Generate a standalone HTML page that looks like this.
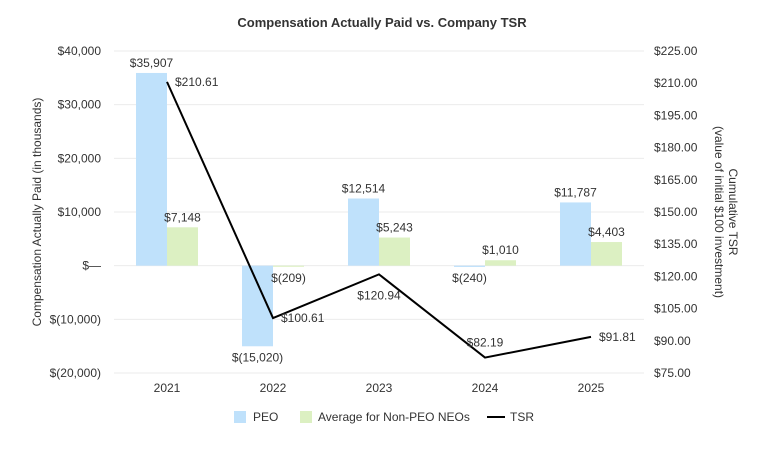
<!DOCTYPE html>
<html><head><meta charset="utf-8"><style>
body{margin:0;background:#fff}
svg text{font-family:"Liberation Sans",Arial,sans-serif}
</style></head><body>
<svg id="c" width="764" height="451" xmlns="http://www.w3.org/2000/svg">
<text x="382" y="27" text-anchor="middle" font-size="13" font-weight="bold" fill="#333">Compensation Actually Paid vs. Company TSR</text>
<text transform="translate(41,212) rotate(-90)" text-anchor="middle" font-size="12" fill="#333">Compensation Actually Paid (in thousands)</text>
<text transform="translate(723,212) rotate(90)" text-anchor="middle" font-size="12" fill="#333"><tspan x="0" dy="-6">Cumulative TSR</tspan><tspan x="0" dy="14">(value of initial $100 investment)</tspan></text>
<g id="grid"></g><g id="bars"></g><g id="line"></g><g id="labels"></g>
<g>
<rect x="234" y="411" width="12" height="12" fill="#bfe1fb"/>
<text x="253" y="421" font-size="12" fill="#333">PEO</text>
<rect x="300" y="411" width="12" height="12" fill="#dcf0c2"/>
<text x="318" y="421" font-size="12" fill="#333">Average for Non-PEO NEOs</text>
<line x1="487" y1="417" x2="505" y2="417" stroke="#000" stroke-width="2"/>
<text x="510" y="421" font-size="12" fill="#333">TSR</text>
</g>
</svg>
<script>
const categories=["2021","2022","2023","2024","2025"];
const peo=[35907,-15020,12514,-240,11787];
const neo=[7148,-209,5243,1010,4403];
const tsr=[210.61,100.61,120.94,82.19,91.81];
const leftTicks=[40000,30000,20000,10000,0,-10000,-20000];
const leftTickLabels=["$40,000","$30,000","$20,000","$10,000","$—","$(10,000)","$(20,000)"];
const rightTicks=[225,210,195,180,165,150,135,120,105,90,75];
const NS="http://www.w3.org/2000/svg";
const L=114,R=644,T=51,B=373;
const yL=v=>T+(40000-v)/60000*(B-T);
const yR=v=>T+(225-v)/150*(B-T);
const xC=i=>L+53+i*106;
// label placement modes for TSR labels: right, below-center, above-center
const tsrPlace=["r","r","b","a","r"];
function mk(g,tag,a,txt){const e=document.createElementNS(NS,tag);for(const k in a)e.setAttribute(k,a[k]);if(txt!==undefined)e.textContent=txt;document.getElementById(g).appendChild(e);return e;}
function fmt(v){return v<0?"$("+Math.abs(v).toLocaleString("en-US")+")":"$"+v.toLocaleString("en-US");}
leftTicks.forEach((t,i)=>{
 const l=mk("grid","line",{x1:L,x2:R,y1:yL(t),y2:yL(t),stroke:"#ebebeb","stroke-width":1});
 
 
 const tx=mk("grid","text",{x:101,y:yL(t)+4,"text-anchor":"end","font-size":12,fill:"#333"},leftTickLabels[i]);
 
 
});
rightTicks.forEach(t=>{
 const tx=mk("grid","text",{x:654,y:yR(t)+4,"font-size":12,fill:"#333"},"$"+t.toFixed(2));
 
 
});
categories.forEach((c,i)=>{
 const tx=mk("grid","text",{x:xC(i),y:392,"text-anchor":"middle","font-size":12,fill:"#333"},c);
 
 
 const bw=31,z=yL(0);
 [[peo[i],"#bfe1fb",xC(i)-bw,"bar-peo"],[neo[i],"#dcf0c2",xC(i),"bar-neo"]].forEach(([v,col,x,nm])=>{
  const y=yL(v);
  const r=mk("bars","rect",{x:x,y:Math.min(y,z),width:bw,height:Math.max(1,Math.abs(y-z)),fill:col});
  
  
  const ly=v>=0?y-6:y+15;
  const t=mk("labels","text",{x:x+bw/2,y:ly,"text-anchor":"middle","font-size":12,fill:"#333"},fmt(v));
  
  
 });
 const m=tsrPlace[i],py=yR(tsr[i]);
 let a={x:xC(i)+8,y:py+4,"font-size":12,fill:"#333"};
 if(m==="b")a={x:xC(i),y:py+25,"text-anchor":"middle","font-size":12,fill:"#333"};
 if(m==="a")a={x:xC(i),y:py-11,"text-anchor":"middle","font-size":12,fill:"#333"};
 const tl=mk("labels","text",a,"$"+tsr[i].toFixed(2));
 
 
});
const p=mk("line","polyline",{points:tsr.map((v,i)=>xC(i)+","+yR(v)).join(" "),fill:"none",stroke:"#000","stroke-width":2});


</script>
</body></html>
